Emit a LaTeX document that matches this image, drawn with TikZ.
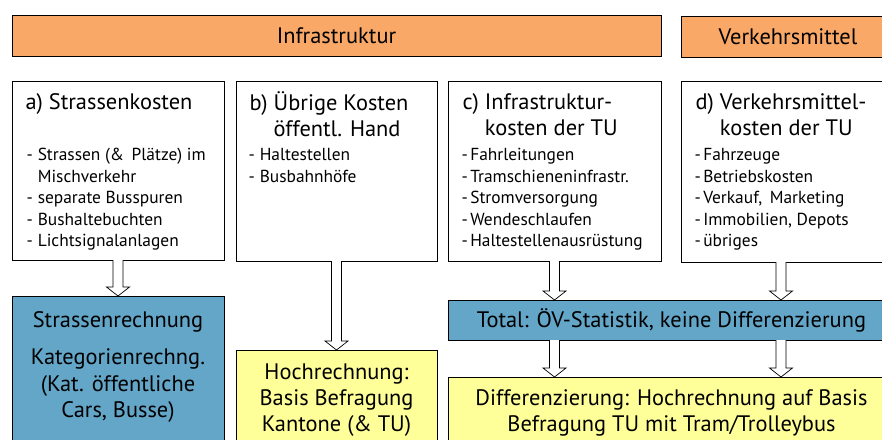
\documentclass[tikz,border=0pt]{standalone}
\usepackage{fontspec}
\setmainfont{PT Sans}
\usetikzlibrary{calc}
\usetikzlibrary{positioning}
\definecolor{orng}{HTML}{F9A868}
\definecolor{blu}{HTML}{63A6C8}
\definecolor{yel}{HTML}{FFFF99}
\newcommand{\ttlfont}{\fontsize{22.4}{26}\selectfont}
\newcommand{\lstfont}{\fontsize{17.4}{21.5}\selectfont}

\begin{document}
\begin{tikzpicture}[x=1pt, y=-1pt, line width=1pt,
    box/.style={draw, fill=white, anchor=north west, inner sep=0pt, outer sep=0pt},
    hdr/.style={box, fill=orng, font=\ttlfont},
    txt/.style={inner sep=0pt, anchor=north west},
    dblarr/.style={draw, fill=white, line width=0.7pt, to path={
      let \p1=(\tikztostart), \p2=(\tikztotarget) in
      ({\x1-5pt},\y1) -- ({\x1-5pt},{\y2+9pt}) -- ({\x1-11.5pt},{\y2+9pt}) -- (\x1,\y2)
      -- ({\x1+11.5pt},{\y2+9pt}) -- ({\x1+5pt},{\y2+9pt}) -- ({\x1+5pt},\y1)}}]
    \useasboundingbox (0,0) rectangle (882,439);
    % headers
    \node[hdr, minimum width=649pt, minimum height=41pt] (infra) at (12,15) {Infrastruktur};
    \node[hdr, minimum width=214pt, minimum height=41pt] (vm) at (681,16) {Verkehrsmittel};
    % cost boxes
    \node[box, minimum width=212pt, minimum height=179pt] (a) at (12,81) {};
    \node[box, minimum width=201pt, minimum height=180pt] (b) at (236,81) {};
    \node[box, minimum width=213pt, minimum height=180pt] (c) at (448,81) {};
    \node[box, minimum width=214pt, minimum height=181pt] (d) at (681,81) {};
    \node[txt, font=\ttlfont] (ta) at ([shift={(13,10)}]a.north west)
      {\begin{tabular}{@{}l@{}}a) Strassenkosten\end{tabular}};
    \node[txt, font=\ttlfont] (tb) at ([shift={(13,10)}]b.north west)
      {\begin{tabular}{@{}l@{ }l@{}}b)&Übrige Kosten\\&öffentl. Hand\end{tabular}};
    \node[txt, font=\ttlfont] (tc) at ([shift={(14,10)}]c.north west)
      {\begin{tabular}{@{}l@{ }l@{}}c)&Infrastruktur-\\&kosten der TU\end{tabular}};
    \node[txt, font=\ttlfont] (td) at ([shift={(14,10)}]d.north west)
      {\begin{tabular}{@{}l@{ }l@{}}d)&Verkehrsmittel-\\&kosten der TU\end{tabular}};
    \node[txt, font=\lstfont] (la) at ([shift={(14,64)}]a.north west)
      {\begin{tabular}{@{}l@{\hspace{5pt}}l@{}}-&Strassen (\& \,Plätze) im\\&Mischverkehr\\-&separate Busspuren\\-&Bushaltebuchten\\-&Lichtsignalanlagen\end{tabular}};
    \node[txt, font=\lstfont] (lb) at ([shift={(12,64)}]b.north west)
      {\begin{tabular}{@{}l@{\hspace{5pt}}l@{}}-&Haltestellen\\-&Busbahnhöfe\end{tabular}};
    \node[txt, font=\lstfont] (lc) at ([shift={(13,64)}]c.north west)
      {\begin{tabular}{@{}l@{\hspace{2.5pt}}l@{}}-&Fahrleitungen\\-&Tramschieneninfrastr.\\-&Stromversorgung\\-&Wendeschlaufen\\-&Haltestellenausrüstung\end{tabular}};
    \node[txt, font=\lstfont] (ld) at ([shift={(13,64)}]d.north west)
      {\begin{tabular}{@{}l@{\hspace{2.5pt}}l@{}}-&Fahrzeuge\\-&Betriebskosten\\-&Verkauf, \,Marketing\\-&Immobilien, Depots\\-&übriges\end{tabular}};
    % result boxes
    \node[box, fill=blu, minimum width=212pt, minimum height=160pt] (sr) at (12,296) {};
    \node[box, fill=yel, minimum width=201pt, minimum height=110pt] (hr) at (236,350) {};
    \node[box, fill=blu, minimum width=447pt, minimum height=40pt, font=\ttlfont] (tot) at (448,300)
      {Total: ÖV-Statistik, keine Differenzierung};
    \node[box, fill=yel, minimum width=447pt, minimum height=80pt] (diff) at (448,377) {};
    \node[txt, anchor=north, font=\fontsize{22.4}{26.5}\selectfont] (tsr) at ([shift={(0,12)}]sr.north)
      {\begin{tabular}{@{}c@{}}Strassenrechnung\\[11pt]Kategorienrechng.\\(Kat. öffentliche\\Cars, Busse)\end{tabular}};
    \node[txt, anchor=north, font=\ttlfont] (thr) at ([shift={(0,11)}]hr.north)
      {\begin{tabular}{@{}c@{}}Hochrechnung:\\Basis Befragung\\Kantone (\& TU)\end{tabular}};
    \node[txt, anchor=north, font=\ttlfont] (tdf) at ([shift={(0,10)}]diff.north)
      {\begin{tabular}{@{}c@{}}Differenzierung: Hochrechnung auf Basis\\Befragung TU mit Tram/Trolleybus\end{tabular}};
    % arrows
    \coordinate (dx) at ([xshift=-7pt]d.south);
    \draw[dblarr] (a.south) to (sr.north);
    \draw[dblarr] (b.south) to (hr.north);
    \draw[dblarr] (c.south) to (c.south |- tot.north);
    \draw[dblarr] (dx) to (dx |- tot.north);
    \draw[dblarr] (tot.south -| c.south) to (diff.north -| c.south);
    \draw[dblarr] (tot.south -| dx) to (diff.north -| dx);
\end{tikzpicture}
\end{document}
